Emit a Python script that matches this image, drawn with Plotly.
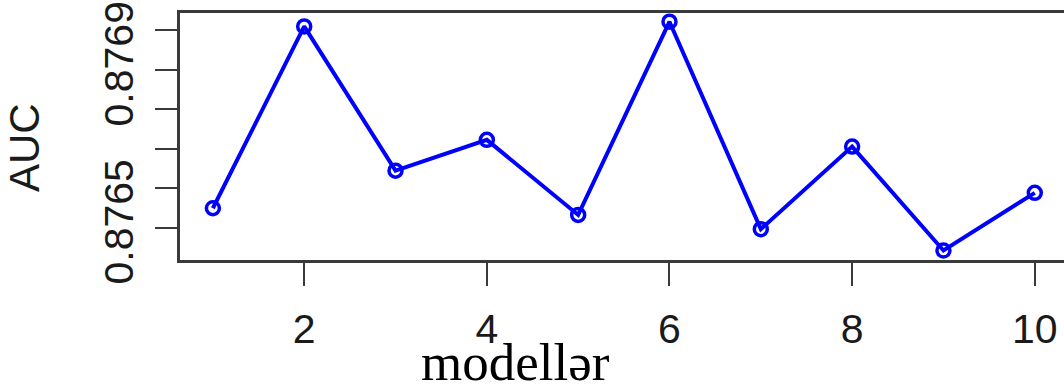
import plotly.graph_objects as go

models = [1, 2, 3, 4, 5, 6, 7, 8, 9, 10]
auc = [0.87655, 0.87701, 0.876645, 0.876723, 0.876533,
       0.877022, 0.876497, 0.876706, 0.876443, 0.876589]

x_tickvals = [2, 4, 6, 8, 10]
x_ticktext = ["2", "4", "6", "8", "10"]
y_tickvals = [0.8765, 0.8766, 0.8767, 0.8768, 0.8769, 0.8770]
y_ticktext = ["0.8765", "", "", "", "0.8769", ""]

W, H = 1064, 391
L, R, T, B = 180, 0, 13, 131
pw, ph = W - L - R, H - T - B

sans = "Liberation Sans, Arial, sans-serif"
tick_font = dict(family=sans, size=41, color="#1a1a1a")
axis_col = "#3a3a3a"

fig = go.Figure()
fig.add_trace(go.Scatter(
    x=models, y=auc, mode="lines+markers",
    line=dict(color="#0000ff", width=4),
    marker=dict(symbol="circle-open", size=13, color="#0000ff",
                line=dict(color="#0000ff", width=3.5)),
    showlegend=False,
))

fig.update_layout(
    width=W, height=H,
    margin=dict(l=L, r=R, t=T, b=B, pad=0),
    plot_bgcolor="white", paper_bgcolor="white",
    xaxis=dict(range=[0.64, 10.32], tickvals=x_tickvals, ticktext=x_ticktext,
               showgrid=False, zeroline=False, showline=True, linecolor=axis_col,
               linewidth=2.5, mirror=True, ticks="outside", ticklen=23, tickwidth=2,
               tickcolor=axis_col, tickfont=tick_font, ticklabelstandoff=8,
               ticklabeloverflow="allow"),
    yaxis=dict(range=[0.876419, 0.877044], tickvals=y_tickvals, ticktext=y_ticktext,
               showgrid=False, zeroline=False, showline=True, linecolor=axis_col,
               linewidth=2.5, mirror=False, ticks="outside", ticklen=22, tickwidth=2,
               tickcolor=axis_col, tickfont=tick_font, tickangle=-90,
               ticklabelstandoff=6, ticklabeloverflow="allow"),
    annotations=[
        dict(text="AUC", xref="paper", yref="paper",
             x=(25 - L) / pw, y=(T + ph - 148) / ph, xanchor="center", yanchor="middle",
             textangle=-90, showarrow=False,
             font=dict(family=sans, size=42, color="#1a1a1a")),
        dict(text="modellər", xref="paper", yref="paper",
             x=(515 - L) / pw, y=(T + ph - 362) / ph, xanchor="center", yanchor="middle",
             showarrow=False,
             font=dict(family="Liberation Serif, Times New Roman, serif", size=53, color="black")),
    ],
)

fig.write_html("out.html")
